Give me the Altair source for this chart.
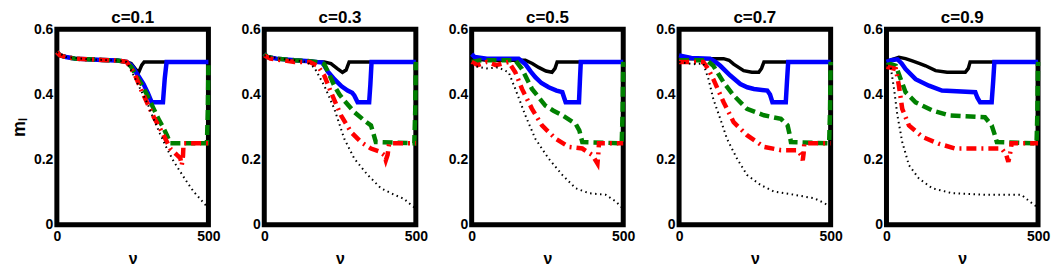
import altair as alt
import pandas as pd

FONT = "Liberation Sans"

panel_titles = ["c=0.1", "c=0.3", "c=0.5", "c=0.7", "c=0.9"]
x_ticks = [0, 500]
y_ticks = [0, 0.2, 0.4, 0.6]

# ---- c=0.1 ----
c01_black = [(0,0.53),(10,0.52),(30,0.515),(60,0.51),(100,0.508),(150,0.506),(200,0.504),(230,0.50),(245,0.495),(262,0.475),(270,0.468),(280,0.49),(288,0.50),(500,0.50)]
c01_blue = [(0,0.53),(10,0.52),(30,0.515),(60,0.51),(100,0.508),(150,0.506),(200,0.504),(230,0.50),(245,0.49),(255,0.477),(270,0.455),(286,0.432),(300,0.405),(313,0.376),(350,0.376),(356,0.45),(362,0.50),(500,0.50)]
c01_green = [(0,0.53),(10,0.52),(30,0.515),(60,0.51),(100,0.508),(150,0.506),(200,0.504),(230,0.50),(245,0.485),(260,0.46),(280,0.43),(297,0.40),(320,0.355),(335,0.325),(350,0.30),(363,0.275),(374,0.25),(495,0.25),(498,0.35),(500,0.50)]
c01_red = [(0,0.53),(10,0.52),(30,0.515),(60,0.51),(100,0.508),(150,0.506),(200,0.504),(230,0.50),(245,0.48),(260,0.455),(280,0.41),(300,0.37),(320,0.33),(341,0.295),(360,0.26),(374,0.234),(395,0.215),(407,0.205),(412,0.183),(416,0.21),(418,0.25),(500,0.25)]
c01_dot = [(0,0.53),(30,0.515),(100,0.508),(200,0.504),(230,0.50),(250,0.465),(275,0.417),(300,0.37),(319,0.325),(340,0.28),(363,0.234),(385,0.195),(407,0.163),(430,0.13),(451,0.102),(475,0.077),(495,0.056),(500,0.05)]

# ---- c=0.3 ----
c03_black = [(0,0.525),(10,0.515),(40,0.51),(100,0.505),(150,0.502),(170,0.50),(198,0.50),(220,0.495),(240,0.48),(258,0.468),(270,0.475),(280,0.50),(500,0.50)]
c03_blue = [(0,0.525),(10,0.515),(40,0.51),(100,0.505),(150,0.502),(170,0.50),(192,0.498),(210,0.47),(231,0.447),(255,0.425),(275,0.412),(290,0.405),(297,0.397),(308,0.376),(346,0.376),(350,0.43),(354,0.50),(500,0.50)]
c03_green = [(0,0.525),(10,0.515),(40,0.51),(100,0.505),(150,0.502),(170,0.50),(185,0.498),(198,0.493),(215,0.46),(231,0.427),(248,0.40),(264,0.381),(297,0.346),(330,0.32),(352,0.305),(360,0.28),(368,0.254),(495,0.25),(498,0.35),(500,0.50)]
c03_red = [(0,0.52),(20,0.51),(60,0.505),(100,0.50),(150,0.50),(176,0.488),(198,0.458),(220,0.407),(253,0.336),(286,0.285),(319,0.254),(352,0.234),(380,0.225),(396,0.214),(401,0.198),(407,0.215),(412,0.25),(500,0.25)]
c03_dot = [(0,0.52),(50,0.51),(100,0.505),(140,0.50),(165,0.483),(198,0.427),(231,0.356),(264,0.264),(297,0.203),(341,0.153),(385,0.112),(429,0.092),(460,0.08),(484,0.061),(500,0.05)]

# ---- c=0.5 ----
c05_black = [(0,0.51),(50,0.505),(177,0.505),(200,0.495),(221,0.483),(245,0.472),(265,0.468),(275,0.48),(282,0.50),(500,0.50)]
c05_blue = [(0,0.524),(10,0.515),(50,0.51),(155,0.51),(177,0.493),(195,0.47),(210,0.453),(230,0.435),(254,0.422),(280,0.412),(299,0.407),(310,0.376),(354,0.376),(357,0.44),(360,0.50),(500,0.50)]
c05_green = [(0,0.50),(30,0.505),(144,0.505),(166,0.478),(199,0.417),(243,0.366),(270,0.35),(299,0.336),(343,0.31),(355,0.29),(365,0.254),(495,0.25),(498,0.35),(500,0.50)]
c05_red = [(0,0.50),(20,0.49),(50,0.50),(80,0.49),(122,0.50),(144,0.468),(166,0.417),(199,0.356),(232,0.305),(277,0.264),(321,0.239),(365,0.234),(398,0.214),(415,0.188),(418,0.22),(420,0.25),(500,0.25)]
c05_dot = [(0,0.49),(20,0.485),(50,0.48),(88,0.483),(122,0.468),(144,0.417),(177,0.336),(210,0.264),(254,0.203),(299,0.153),(343,0.112),(387,0.097),(442,0.092),(476,0.071),(492,0.056),(500,0.05)]

# ---- c=0.7 ----
c07_black = [(0,0.51),(147,0.51),(165,0.505),(180,0.493),(213,0.473),(240,0.468),(263,0.468),(272,0.48),(280,0.50),(500,0.50)]
c07_blue = [(0,0.52),(40,0.512),(102,0.51),(120,0.50),(136,0.488),(169,0.458),(202,0.432),(225,0.422),(247,0.417),(291,0.412),(300,0.40),(308,0.376),(352,0.376),(356,0.44),(360,0.50),(500,0.50)]
c07_green = [(0,0.505),(91,0.505),(113,0.488),(147,0.437),(180,0.397),(224,0.356),(280,0.336),(336,0.325),(358,0.305),(364,0.28),(369,0.254),(495,0.25),(498,0.35),(500,0.50)]
c07_red = [(0,0.50),(80,0.50),(95,0.48),(113,0.447),(147,0.376),(180,0.315),(224,0.275),(280,0.239),(336,0.229),(391,0.229),(402,0.215),(408,0.198),(411,0.22),(413,0.25),(500,0.25)]
c07_dot = [(0,0.50),(47,0.493),(80,0.495),(97,0.447),(113,0.386),(136,0.325),(158,0.264),(191,0.203),(224,0.153),(269,0.122),(313,0.102),(380,0.092),(447,0.081),(480,0.066),(497,0.056),(500,0.05)]

# ---- c=0.9 ----
c09_black = [(0,0.50),(20,0.508),(41,0.514),(63,0.51),(85,0.503),(110,0.495),(129,0.488),(162,0.473),(200,0.468),(260,0.468),(270,0.48),(276,0.50),(500,0.50)]
c09_blue = [(0,0.50),(15,0.505),(36,0.508),(50,0.495),(63,0.478),(96,0.447),(140,0.427),(183,0.412),(293,0.407),(300,0.39),(309,0.376),(347,0.376),(352,0.44),(356,0.50),(500,0.50)]
c09_green = [(0,0.49),(14,0.493),(31,0.488),(47,0.447),(63,0.407),(96,0.376),(151,0.351),(205,0.336),(325,0.33),(347,0.305),(356,0.28),(364,0.254),(495,0.25),(498,0.35),(500,0.50)]
c09_red = [(0,0.485),(15,0.482),(31,0.478),(41,0.427),(52,0.356),(74,0.305),(118,0.27),(172,0.249),(227,0.234),(380,0.234),(395,0.215),(402,0.193),(408,0.22),(413,0.25),(500,0.25)]
c09_dot = [(0,0.49),(14,0.483),(25,0.417),(36,0.336),(52,0.254),(74,0.183),(107,0.142),(151,0.112),(216,0.097),(325,0.092),(445,0.092),(473,0.071),(495,0.056),(500,0.05)]

panels_data = [
    [c01_black, c01_blue, c01_green, c01_red, c01_dot],
    [c03_black, c03_blue, c03_green, c03_red, c03_dot],
    [c05_black, c05_blue, c05_green, c05_red, c05_dot],
    [c07_black, c07_blue, c07_green, c07_red, c07_dot],
    [c09_black, c09_blue, c09_green, c09_red, c09_dot],
]

styles = [
    dict(color="#000000", strokeWidth=3.5),
    dict(color="#0000ff", strokeWidth=4.5),
    dict(color="#008000", strokeWidth=4.5, strokeDash=[10, 5]),
    dict(color="#ff0000", strokeWidth=4.5, strokeDash=[10, 5, 2, 5]),
    dict(color="#000000", strokeWidth=2, strokeDash=[1.5, 3.5]),
]

W, H = 152, 196


def panel(i):
    layers = []
    for j, series in enumerate(panels_data[i]):
        df = pd.DataFrame(series, columns=["v", "m"])
        df["o"] = range(len(df))
        x_axis = alt.Axis(values=x_ticks, title="ν", grid=False, ticks=False, domain=False,
                          labelFont=FONT, labelFontWeight="bold", labelFontSize=14,
                          labelPadding=5, titleFont=FONT, titleFontWeight="bold",
                          titleFontSize=16, titlePadding=7, labelFlush=False)
        y_kwargs = dict(values=y_ticks, grid=False, ticks=False, domain=False,
                        labelFont=FONT, labelFontWeight="bold", labelFontSize=14,
                        labelPadding=4, labelFlush=False,
                        labelExpr="datum.value == 0 ? '0' : format(datum.value, '.1f')")
        if i == 0:
            y_axis = alt.Axis(title="mₗ", titleFont=FONT, titleFontWeight="bold",
                              titleFontSize=18, titlePadding=5, **y_kwargs)
        else:
            y_axis = alt.Axis(title=None, **y_kwargs)
        layer = alt.Chart(df).mark_line(**styles[j]).encode(
            x=alt.X("v:Q", scale=alt.Scale(domain=[0, 500], nice=False), axis=x_axis),
            y=alt.Y("m:Q", scale=alt.Scale(domain=[0, 0.6], nice=False), axis=y_axis),
            order="o:Q",
        )
        layers.append(layer)
    return alt.layer(*layers).properties(
        width=W, height=H,
        title=alt.TitleParams(panel_titles[i], font=FONT, fontWeight="bold", fontSize=17,
                              offset=-5, frame="group"),
    )


chart = alt.hconcat(*[panel(i) for i in range(5)], spacing=56, bounds="flush").properties(
    padding={"left": 0, "top": -2, "right": 0, "bottom": 0},
    background="white",
).configure_view(stroke="#000000", strokeWidth=5)

chart.save("out.html", embed_options={"renderer": "svg", "actions": False})
